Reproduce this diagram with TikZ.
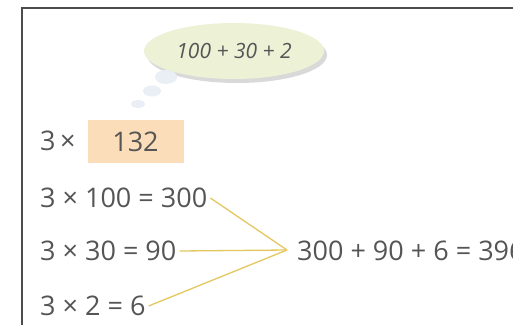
\documentclass[tikz,border=0pt]{standalone}
\usepackage{fontspec}
\setmainfont{Open Sans}
\usetikzlibrary{shapes.geometric}
\definecolor{txt}{HTML}{555555}
\definecolor{gold}{HTML}{E5C760}
\definecolor{boxfill}{HTML}{FBDDB9}
\definecolor{bubble}{HTML}{EDF2D6}
\definecolor{puff}{HTML}{EAEFF5}
\begin{document}
\begin{tikzpicture}[x=1pt,y=-1pt,
  eq/.style={anchor=west,text=txt,font=\fontsize{27}{30}\selectfont,inner sep=0pt},
  link/.style={draw=gold,line width=1.3pt}]
\useasboundingbox (0,0) rectangle (513,324);
\fill[white] (0,0) rectangle (513,324);
% frame
\draw[line width=2.5pt,draw=black!70] (22,330) -- (22,8) -- (520,8);
% thought bubble
\fill[black!15] (237,55) ellipse (90 and 28);
\node[ellipse,fill=bubble,minimum width=180pt,minimum height=56pt,inner sep=0pt] (tb) at (234,51) {};
\node[text=txt,font=\itshape\fontsize{21}{24}\selectfont] (tbt) at (tb.center) {100 + 30 + 2};
\fill[puff] (166,77) ellipse (11 and 7);
\fill[puff] (152,91) ellipse (9 and 5.5);
\fill[puff] (138,104) ellipse (7 and 4);
% 3 x 132
\node[eq] (m) at (40,141) {3\,×};
\node[fill=boxfill,minimum width=96pt,minimum height=43pt,inner sep=0pt,text=txt,font=\fontsize{27}{30}\selectfont] (box) at (135.5,141.5) {132};
% equations
\node[eq] (e1) at (40,198) {3 × 100 = 300};
\node[eq] (e2) at (40,251) {3 × 30 = 90};
\node[eq] (e3) at (40,306) {3 × 2 = 6};
\coordinate (j) at (287,250);
\node[eq] (sum) at (297,251) {300 + 90 + 6 = 396};
\draw[link] ([xshift=3pt]e1.east) -- (j);
\draw[link] ([xshift=3pt]e2.east) -- (j);
\draw[link] ([xshift=3pt]e3.east) -- (j);
\end{tikzpicture}
\end{document}
